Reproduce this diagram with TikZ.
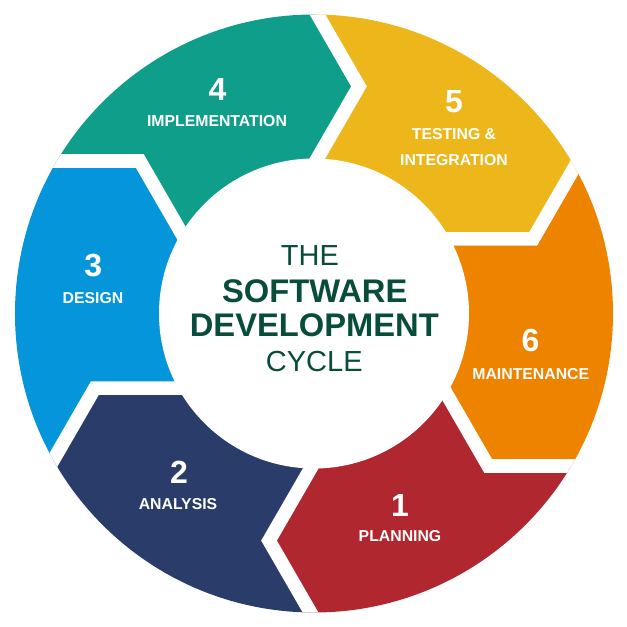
\documentclass[tikz,border=0pt]{standalone}
\usepackage{fontspec}
\setmainfont{Liberation Sans}
\usetikzlibrary{calc}
\definecolor{cteal}{HTML}{0E9E89}
\definecolor{cyellow}{HTML}{EDB71C}
\definecolor{corange}{HTML}{EE8300}
\definecolor{cred}{HTML}{B0272F}
\definecolor{cnavy}{HTML}{2A3C6A}
\definecolor{cblue}{HTML}{0495DA}
\definecolor{ctext}{HTML}{084C3C}
\begin{document}
\begin{tikzpicture}[x=1pt,y=1pt,
  gapline/.style={draw=white,line width=13.6pt,line join=miter},
  num/.style={text=white,font=\bfseries\fontsize{32}{32}\selectfont,inner sep=0pt},
  lab/.style={text=white,font=\bfseries\fontsize{15.8}{19}\selectfont,inner sep=0pt},
  titlethin/.style={text=ctext,font=\fontsize{29}{29}\selectfont,inner sep=0pt},
  titlebold/.style={text=ctext,font=\bfseries\fontsize{32.7}{32.7}\selectfont,inner sep=0pt}]
\useasboundingbox (-314,-313.5) rectangle (313,313.5);
\foreach \k in {0,...,5}{
  \pgfmathsetmacro\ang{78.8-60*\k}
  \pgfmathsetmacro\dir{-60*\k}
  \coordinate (T\k) at (\ang:231.5);
  \coordinate (O\k) at ($(T\k)+(\dir+120:130)$);
  \coordinate (I\k) at ($(T\k)+(\dir+240:130)$);
  \coordinate (F\k) at (\ang+30:600);
}
\coordinate (C) at (0,0);
\begin{scope}
  \clip (C) circle (299);
  \fill[cteal]   (C) -- (I0) -- (T0) -- (O0) -- (F0) -- (O5) -- (T5) -- (I5) -- cycle;
  \fill[cyellow] (C) -- (I1) -- (T1) -- (O1) -- (F1) -- (O0) -- (T0) -- (I0) -- cycle;
  \fill[corange] (C) -- (I2) -- (T2) -- (O2) -- (F2) -- (O1) -- (T1) -- (I1) -- cycle;
  \fill[cred]    (C) -- (I3) -- (T3) -- (O3) -- (F3) -- (O2) -- (T2) -- (I2) -- cycle;
  \fill[cnavy]   (C) -- (I4) -- (T4) -- (O4) -- (F4) -- (O3) -- (T3) -- (I3) -- cycle;
  \fill[cblue]   (C) -- (I5) -- (T5) -- (O5) -- (F5) -- (O4) -- (T4) -- (I4) -- cycle;
  \foreach \k in {0,...,5}{
    \draw[gapline] (O\k) -- (T\k) -- (I\k);
  }
\end{scope}
\fill[white] (C) circle (155);
% centre title
\node[titlethin] (the) at (-4,57.7) {THE};
\node[titlebold] (soft) at (0.7,22.3) {SOFTWARE};
\node[titlebold] (dev) at (0.3,-12.2) {DEVELOPMENT};
\node[titlethin] (cyc) at (0.3,-47.8) {CYCLE};
% segment labels
\node[num] (n4) at (-96.5,224) {4};
\node[lab] (l4) at (-97,192.5) {IMPLEMENTATION};
\node[num] (n5) at (140,211.8) {5};
\node[lab] (l5a) at (140,179.5) {TESTING \&};
\node[lab] (l5b) at (140,153.5) {INTEGRATION};
\node[num] (n3) at (-220.7,47.5) {3};
\node[lab] (l3) at (-221,15.7) {DESIGN};
\node[num] (n6) at (216.5,-26.8) {6};
\node[lab] (l6) at (216.8,-60.7) {MAINTENANCE};
\node[num] (n2) at (-135,-158.5) {2};
\node[lab] (l2) at (-136,-190.5) {ANALYSIS};
\node[num] (n1) at (86,-191.5) {1};
\node[lab] (l1) at (86,-222.5) {PLANNING};
\end{tikzpicture}
\end{document}
